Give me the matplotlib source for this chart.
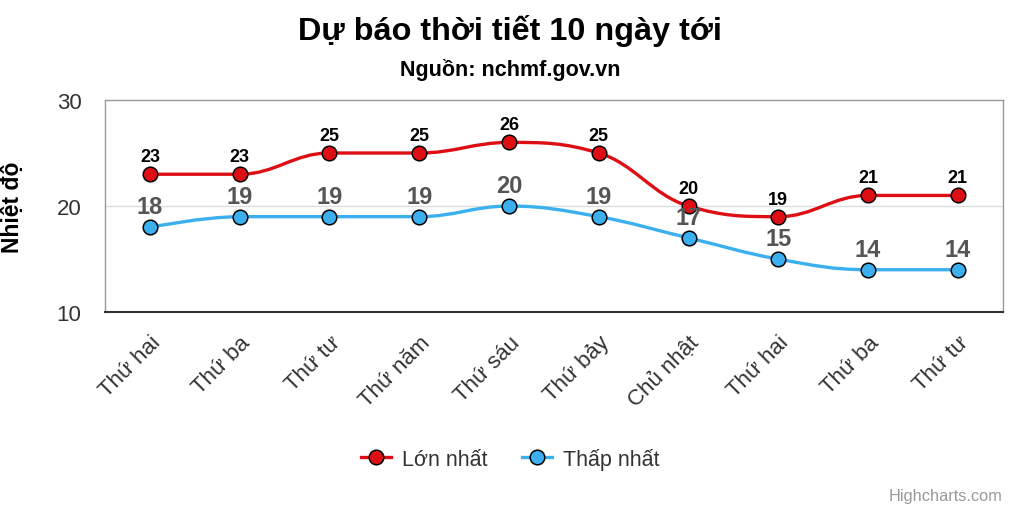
import numpy as np
import matplotlib
matplotlib.use('Agg')
import matplotlib.pyplot as plt
from matplotlib.path import Path
from matplotlib.patches import PathPatch

plt.rcParams['font.family'] = ['Liberation Sans', 'DejaVu Sans']

days = ['Thứ hai', 'Thứ ba', 'Thứ tư', 'Thứ năm', 'Thứ sáu', 'Thứ bảy',
        'Chủ nhật', 'Thứ hai', 'Thứ ba', 'Thứ tư']
temp_max = [23, 23, 25, 25, 26, 25, 20, 19, 21, 21]
temp_min = [18, 19, 19, 19, 20, 19, 17, 15, 14, 14]


def spline_path(xs, ys, smoothing=1.5):
    # Highcharts-style spline: bezier control points per point
    n = len(xs)
    denom = smoothing + 1
    left = [(xs[i], ys[i]) for i in range(n)]
    right = [(xs[i], ys[i]) for i in range(n)]
    for i in range(1, n - 1):
        lx, ly = xs[i - 1], ys[i - 1]
        px, py = xs[i], ys[i]
        nx, ny = xs[i + 1], ys[i + 1]
        lcx = (smoothing * px + lx) / denom
        lcy = (smoothing * py + ly) / denom
        rcx = (smoothing * px + nx) / denom
        rcy = (smoothing * py + ny) / denom
        if rcx != lcx:
            corr = (rcy - lcy) * (rcx - px) / (rcx - lcx) + py - rcy
            lcy += corr
            rcy += corr
        if lcy > ly and lcy > py:
            lcy = max(ly, py)
            rcy = 2 * py - lcy
        elif lcy < ly and lcy < py:
            lcy = min(ly, py)
            rcy = 2 * py - lcy
        if rcy > ny and rcy > py:
            rcy = max(ny, py)
            lcy = 2 * py - rcy
        elif rcy < ny and rcy < py:
            rcy = min(ny, py)
            lcy = 2 * py - rcy
        left[i] = (lcx, lcy)
        right[i] = (rcx, rcy)
    verts = [(xs[0], ys[0])]
    codes = [Path.MOVETO]
    for i in range(1, n):
        verts += [right[i - 1], left[i], (xs[i], ys[i])]
        codes += [Path.CURVE4] * 3
    return Path(verts, codes)


fig = plt.figure(figsize=(10.2, 5.1), dpi=100)
ax = fig.add_axes([0.103, 0.386, 0.880, 0.416])

x = np.arange(len(days))
red = '#dd0f14'
blue = '#3cb0ef'

for vals, col in [(temp_max, red), (temp_min, blue)]:
    ax.add_patch(PathPatch(spline_path(x, vals), facecolor='none',
                           edgecolor=col, lw=2.4, zorder=3))
    ax.plot(x, vals, 'o', color=col, markersize=10.5, markeredgecolor='black',
            markeredgewidth=1.1, zorder=4)

for xi, v in zip(x, temp_max):
    ax.annotate(str(v), (xi, v), xytext=(0, 6.5), textcoords='offset points',
                ha='center', va='bottom', fontsize=13, fontweight='bold',
                color='black', zorder=5)
for xi, v in zip(x, temp_min):
    ax.annotate(str(v), (xi, v), xytext=(0, 6.5), textcoords='offset points',
                ha='center', va='bottom', fontsize=17, fontweight='bold',
                color='#555555', zorder=5)

# legend proxies
ax.plot([], [], '-o', color=red, lw=2.4, markersize=10.5,
        markeredgecolor='black', markeredgewidth=1.1, label='Lớn nhất')
ax.plot([], [], '-o', color=blue, lw=2.4, markersize=10.5,
        markeredgecolor='black', markeredgewidth=1.1, label='Thấp nhất')

ax.set_xlim(-0.5, 9.5)
ax.set_ylim(10, 30)
ax.set_yticks([10, 20, 30])
ax.set_xticks(x)
ax.set_xticklabels(days, rotation=45, ha='right', rotation_mode='anchor')
ax.tick_params(axis='both', length=0, labelsize=16, colors='#333333')
ax.tick_params(axis='x', pad=14)
ax.tick_params(axis='y', pad=17)
ax.axhline(20, color='#dddddd', lw=1, zorder=1)

for s in ['left', 'top', 'right']:
    ax.spines[s].set_color('#999999')
    ax.spines[s].set_linewidth(1)
ax.spines['bottom'].set_color('#333333')
ax.spines['bottom'].set_linewidth(1.5)

fig.text(0.5, 0.939, 'Dự báo thời tiết 10 ngày tới', ha='center', va='center',
         fontsize=23.3, fontweight='bold', color='black')
fig.text(0.5, 0.863, 'Nguồn: nchmf.gov.vn', ha='center', va='center',
         fontsize=15.5, fontweight='bold', color='black')
fig.text(0.012, 0.594, 'Nhiệt độ', rotation=90, ha='center', va='center',
         fontsize=16.5, fontweight='bold', color='black')
fig.text(0.983, 0.027, 'Highcharts.com', ha='right', va='center',
         fontsize=11.8, color='#999999')

fig.legend(loc='center', bbox_to_anchor=(0.5, 0.098), ncol=2, frameon=False,
           fontsize=15.5, handlelength=1.4, handletextpad=0.5,
           columnspacing=1.6, labelcolor='#333333')

fig.savefig('out.png', dpi=100)
